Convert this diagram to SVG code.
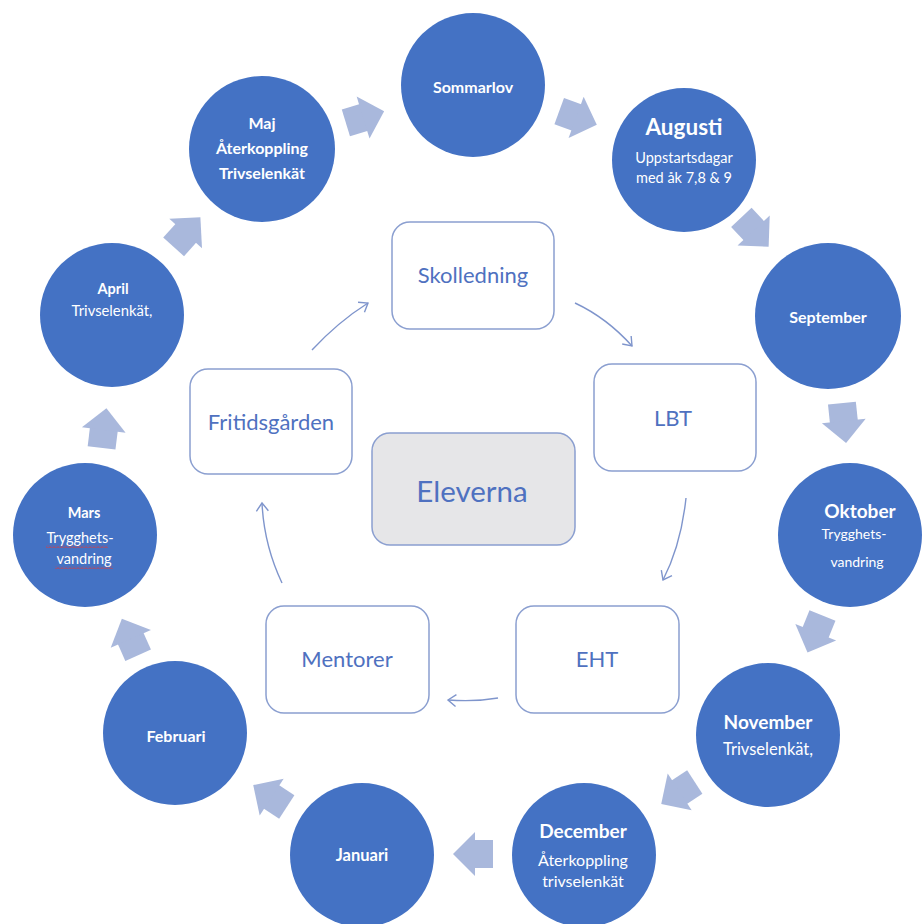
<svg xmlns="http://www.w3.org/2000/svg" xmlns:xlink="http://www.w3.org/1999/xlink" width="922" height="924" viewBox="0 0 922 924">
<style>
.c{fill:#4472c4;}
.ct{fill:#ffffff;font-family:Lato,"Open Sans","Noto Sans",sans-serif;text-anchor:middle;dominant-baseline:central;}
.b{font-weight:bold;}
.box{fill:#ffffff;stroke:#8b9fd0;stroke-width:1.5;}
.bt{fill:#4f71c0;font-family:Lato,"Open Sans","Noto Sans",sans-serif;text-anchor:middle;dominant-baseline:central;}
.con{fill:none;stroke:#7f95cc;stroke-width:1.4;marker-end:url(#chev);}
.blk{fill:#a9b8dc;}
</style>
<defs>
<marker id="chev" markerWidth="14" markerHeight="14" refX="10" refY="7" orient="auto" markerUnits="userSpaceOnUse">
<path d="M2,1 L10,7 L2,13" fill="none" stroke="#7f95cc" stroke-width="1.4"/>
</marker>
<g id="blk">
<rect x="-20" y="-14" width="19" height="28"/>
<polygon points="-2,-22 20,0 -2,22"/>
</g>
<pattern id="squig" width="4" height="3" patternUnits="userSpaceOnUse">
<path d="M0,2.5 L2,0.5 L4,2.5" stroke="#e03a3a" fill="none" stroke-width="0.9"/>
</pattern>
</defs>
<rect width="922" height="924" fill="#ffffff"/>

<g id="block-arrows" class="blk">
<use xlink:href="#blk" href="#blk" transform="translate(365,117) rotate(-17)"/>
<use xlink:href="#blk" href="#blk" transform="translate(578,118) rotate(20)"/>
<use xlink:href="#blk" href="#blk" transform="translate(755,232) rotate(47)"/>
<use xlink:href="#blk" href="#blk" transform="translate(844,423) rotate(84)"/>
<use xlink:href="#blk" href="#blk" transform="translate(815,634) rotate(112)"/>
<use xlink:href="#blk" href="#blk" transform="translate(678,793) rotate(147)"/>
<use xlink:href="#blk" href="#blk" transform="translate(473,854) rotate(180)"/>
<use xlink:href="#blk" href="#blk" transform="translate(270,796) rotate(213)"/>
<use xlink:href="#blk" href="#blk" transform="translate(130,637) rotate(246)"/>
<use xlink:href="#blk" href="#blk" transform="translate(104,428) rotate(-83)"/>
<use xlink:href="#blk" href="#blk" transform="translate(187,232) rotate(-48)"/>
</g>

<g id="sommarlov"><circle class="c" cx="473" cy="85" r="72"/>
<text class="ct b" x="473" y="86" font-size="16">Sommarlov</text></g>

<g id="augusti"><circle class="c" cx="684" cy="160" r="72"/>
<text class="ct b" x="684" y="126" font-size="22.5">Augusti</text>
<text class="ct" x="684" y="157" font-size="14.5">Uppstartsdagar</text>
<text class="ct" x="684" y="177" font-size="14.5">med åk 7,8 &amp; 9</text></g>

<g id="september"><circle class="c" cx="828" cy="316" r="73"/>
<text class="ct b" x="828" y="316" font-size="16">September</text></g>

<g id="oktober"><circle class="c" cx="850" cy="535" r="72"/>
<text class="ct b" x="860" y="510" font-size="19">Oktober</text>
<text class="ct" x="854" y="533" font-size="14">Trygghets-</text>
<text class="ct" x="857" y="561" font-size="14">vandring</text></g>

<g id="november"><circle class="c" cx="768" cy="735" r="72"/>
<text class="ct b" x="768" y="721" font-size="19">November</text>
<text class="ct" x="768" y="749" font-size="16.5">Trivselenkät,</text></g>

<g id="december"><circle class="c" cx="584" cy="855" r="72"/>
<text class="ct b" x="583" y="830" font-size="19">December</text>
<text class="ct" x="583" y="859" font-size="16">Återkoppling</text>
<text class="ct" x="583" y="880" font-size="16">trivselenkät</text></g>

<g id="januari"><circle class="c" cx="362" cy="855" r="72"/>
<text class="ct b" x="362" y="855" font-size="16.5">Januari</text></g>

<g id="februari"><circle class="c" cx="175" cy="733" r="72"/>
<text class="ct b" x="176" y="735" font-size="16">Februari</text></g>

<g id="mars"><circle class="c" cx="85" cy="535" r="72"/>
<text class="ct b" x="84" y="512" font-size="14.5">Mars</text>
<text class="ct" x="80" y="537" font-size="14.5">Trygghets-</text>
<text class="ct" x="84" y="558" font-size="14.5">vandring</text>
<rect x="46" y="545" width="62" height="3" fill="url(#squig)"/>
<rect x="55" y="566" width="58" height="3" fill="url(#squig)"/></g>

<g id="april"><circle class="c" cx="112" cy="315" r="72"/>
<text class="ct b" x="113" y="288" font-size="14.5">April</text>
<text class="ct" x="112" y="310" font-size="14.8">Trivselenkät,</text></g>

<g id="maj"><circle class="c" cx="262" cy="149" r="73"/>
<text class="ct b" x="262" y="122" font-size="16">Maj</text>
<text class="ct b" x="262" y="147" font-size="16">Återkoppling</text>
<text class="ct b" x="262" y="172" font-size="16">Trivselenkät</text></g>

<g id="skolledning"><rect class="box" x="392" y="222" width="162" height="107" rx="18"/>
<text class="bt" x="473" y="274" font-size="22">Skolledning</text></g>

<g id="lbt"><rect class="box" x="594" y="364" width="162" height="107" rx="18"/>
<text class="bt" x="673" y="417" font-size="22">LBT</text></g>

<g id="eht"><rect class="box" x="516" y="606" width="163" height="107" rx="18"/>
<text class="bt" x="597" y="658" font-size="22">EHT</text></g>

<g id="mentorer"><rect class="box" x="266" y="606" width="163" height="107" rx="18"/>
<text class="bt" x="347" y="658" font-size="22">Mentorer</text></g>

<g id="fritidsgarden"><rect class="box" x="190" y="369" width="162" height="105" rx="18"/>
<text class="bt" x="271" y="421" font-size="22">Fritidsgården</text></g>

<g id="eleverna"><rect x="372" y="433" width="203" height="112" rx="18" fill="#e6e6e8" stroke="#8b9fd0" stroke-width="1.5"/>
<text class="bt" x="472" y="490" font-size="29.5">Eleverna</text></g>

<g id="connectors">
<path class="con" d="M312,350 Q338,322 368,303"/>
<path class="con" d="M575,303 Q607,318 632,346"/>
<path class="con" d="M686,498 Q681,545 663,580"/>
<path class="con" d="M498,698 Q475,702 448,700"/>
<path class="con" d="M282,583 Q264,545 262,503"/>
</g>
</svg>
